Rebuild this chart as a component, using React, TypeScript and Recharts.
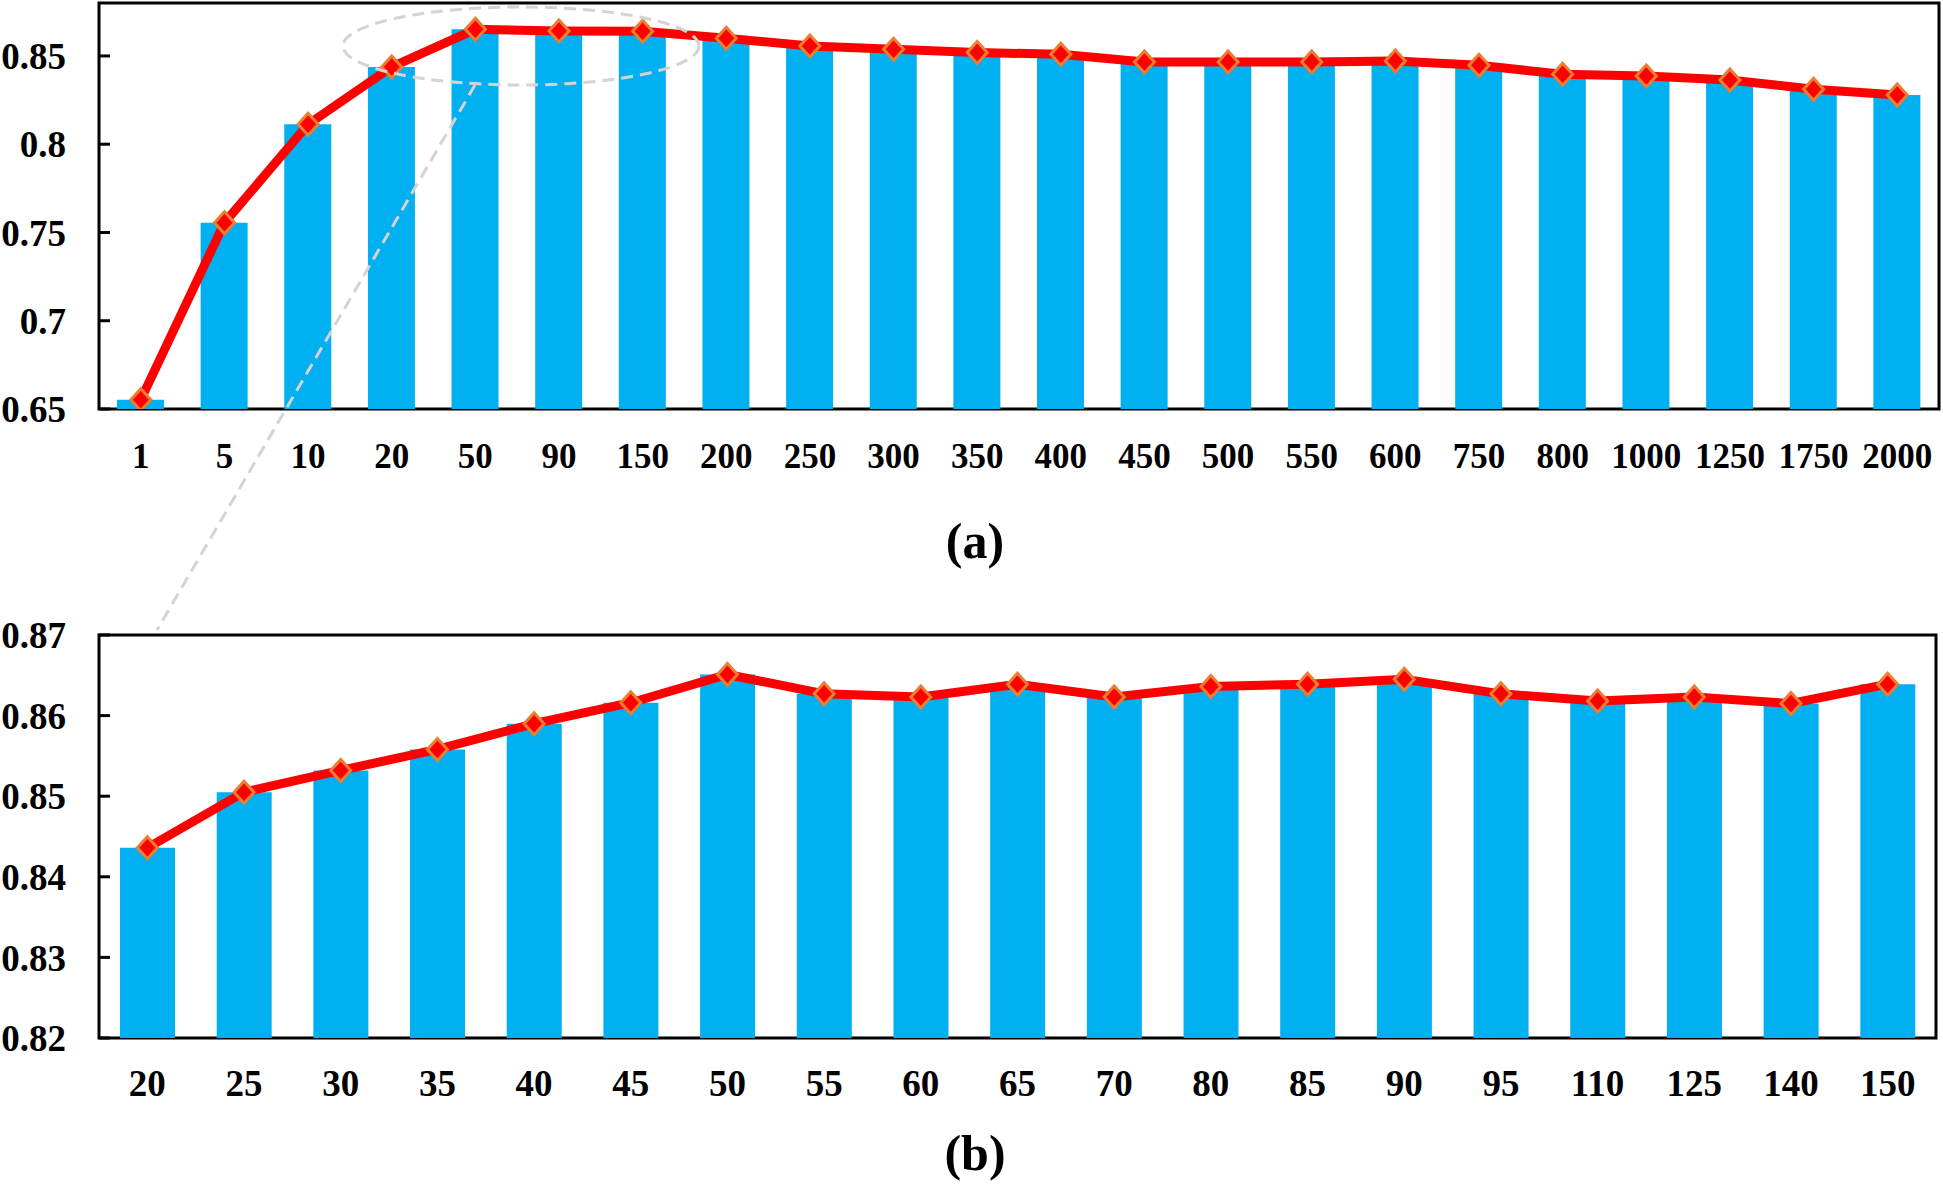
import { ComposedChart, Bar, Line, XAxis, YAxis, ReferenceArea } from 'recharts';

const TOP_LABELS = ['1', '5', '10', '20', '50', '90', '150', '200', '250', '300', '350', '400', '450', '500', '550', '600', '750', '800', '1000', '1250', '1750', '2000'];
const TOP_VALUES = [0.6553, 0.7555, 0.8113, 0.8438, 0.8651, 0.8642, 0.864, 0.86, 0.8557, 0.8538, 0.8519, 0.851, 0.8466, 0.8466, 0.8466, 0.8472, 0.8447, 0.8396, 0.8387, 0.8364, 0.8311, 0.8279];
const TOP_TICKS = [0.65, 0.7, 0.75, 0.8, 0.85];

const BOTTOM_LABELS = ['20', '25', '30', '35', '40', '45', '50', '55', '60', '65', '70', '80', '85', '90', '95', '110', '125', '140', '150'];
const BOTTOM_VALUES = [0.8436, 0.8505, 0.8532, 0.8558, 0.859, 0.8616, 0.8651, 0.8627, 0.8623, 0.8639, 0.8623, 0.8636, 0.8639, 0.8645, 0.8627, 0.8618, 0.8623, 0.8615, 0.8639];
const BOTTOM_TICKS = [0.82, 0.83, 0.84, 0.85, 0.86, 0.87];

const FONT = '"Liberation Serif", "Times New Roman", serif';
const BAR_BLUE = '#00B0F0';
const LINE_RED = '#FF0000';

const Diamond = (props: any) => {
  const { cx, cy } = props;
  if (cx == null || cy == null) return null;
  return (
    <path
      d={`M${cx} ${cy - 11} L${cx + 10} ${cy} L${cx} ${cy + 11} L${cx - 10} ${cy} Z`}
      fill={LINE_RED}
      stroke="#ED7D31"
      strokeWidth={3}
    />
  );
};

type PanelProps = {
  labels: string[];
  values: number[];
  ticks: number[];
  domain: [number, number];
  height: number;
  margin: { top: number; right: number; left: number; bottom: number };
  xHeight: number;
  xFont: number;
  xMargin: number;
  barSize: number;
};

function Panel({ labels, values, ticks, domain, height, margin, xHeight, xFont, xMargin, barSize }: PanelProps) {
  const data = labels.map((label, i) => ({ label, value: values[i] }));
  return (
    <ComposedChart width={1943} height={height} data={data} margin={margin}>
      <ReferenceArea y1={domain[0]} y2={domain[1]} fill="none" stroke="#000" strokeWidth={3} ifOverflow="visible" />
      <XAxis
        dataKey="label"
        interval={0}
        axisLine={false}
        tickLine={false}
        tickSize={0}
        tickMargin={xMargin}
        height={xHeight}
        tick={{ fontSize: xFont, fontFamily: FONT, fontWeight: 'bold', fill: '#000' }}
      />
      <YAxis
        domain={domain}
        ticks={ticks}
        width={99}
        axisLine={false}
        tickLine={{ stroke: '#000', strokeWidth: 3 }}
        tickSize={-11}
        tickMargin={44}
        allowDataOverflow
        tick={{ fontSize: 37, fontFamily: FONT, fontWeight: 'bold', fill: '#000' }}
      />
      <Bar dataKey="value" fill={BAR_BLUE} barSize={barSize} isAnimationActive={false} />
      <Line
        type="linear"
        dataKey="value"
        stroke={LINE_RED}
        strokeWidth={9}
        dot={<Diamond />}
        activeDot={false}
        isAnimationActive={false}
      />
    </ComposedChart>
  );
}

export default function App() {
  return (
    <div style={{ position: 'absolute', left: 0, top: 0, width: 1943, height: 1186, background: '#fff' }}>
      <div style={{ position: 'absolute', left: 0, top: 0 }}>
        <Panel
          labels={TOP_LABELS}
          values={TOP_VALUES}
          ticks={TOP_TICKS}
          domain={[0.65, 0.88]}
          height={490}
          margin={{ top: 3, right: 4, left: 0, bottom: 0 }}
          xHeight={81}
          xFont={35}
          xMargin={34}
          barSize={47}
        />
      </div>
      <div style={{ position: 'absolute', left: 0, top: 600 }}>
        <Panel
          labels={BOTTOM_LABELS}
          values={BOTTOM_VALUES}
          ticks={BOTTOM_TICKS}
          domain={[0.82, 0.87]}
          height={520}
          margin={{ top: 35, right: 7, left: 0, bottom: 0 }}
          xHeight={82}
          xFont={37}
          xMargin={32}
          barSize={55}
        />
      </div>
      {/* zoom annotation + panel captions */}
      <svg width={1943} height={1186} style={{ position: 'absolute', left: 0, top: 0, pointerEvents: 'none' }}>
        <ellipse cx={521} cy={46} rx={178} ry={39} fill="none" stroke="#D3D3D3" strokeWidth={3} strokeDasharray="12 7" />
        <line x1={475} y1={85} x2={157} y2={630} stroke="#D3D3D3" strokeWidth={3} strokeDasharray="12 7" />
        <text x={975} y={558} textAnchor="middle" fontFamily={FONT} fontWeight="bold" fontSize={50} fill="#000">(a)</text>
        <text x={975} y={1170} textAnchor="middle" fontFamily={FONT} fontWeight="bold" fontSize={50} fill="#000">(b)</text>
      </svg>
    </div>
  );
}
